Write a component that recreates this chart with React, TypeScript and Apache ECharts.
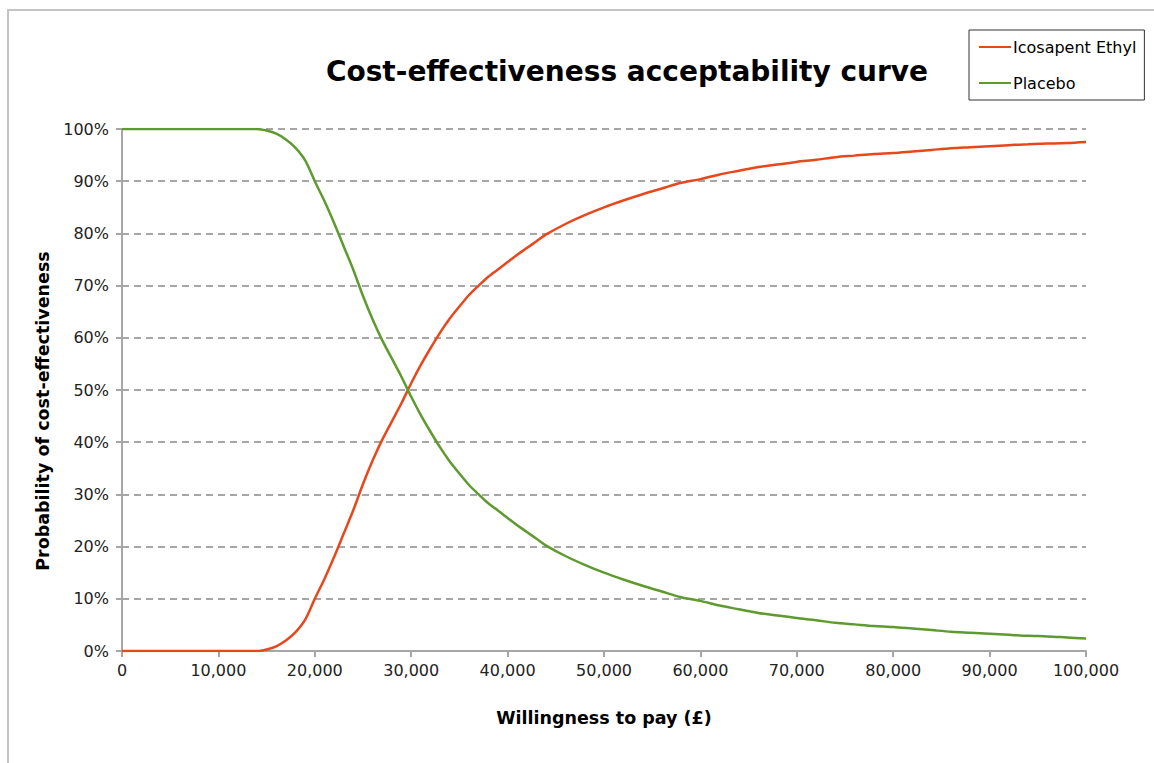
import React, { useEffect, useRef } from "react";
import * as echarts from "echarts";

const wtp = [
  0, 5000, 10000, 13000, 14000, 15000, 16000, 17000, 18000, 19000, 20000, 21000, 22000, 23000, 24000,
  25000, 26000, 27000, 28000, 29000, 30000, 31000, 32000, 33000, 34000, 35000, 36000, 37000, 38000,
  39000, 40000, 41000, 42000, 43000, 44000, 46000, 48000, 50000, 52000, 54000, 56000, 58000, 60000,
  62000, 64000, 66000, 68000, 70000, 72000, 74000, 76000, 78000, 80000, 82000, 84000, 86000, 88000,
  90000, 92000, 94000, 96000, 98000, 100000,
];

const icosapent = [
  0, 0, 0, 0, 0, 0.3, 0.9, 2.0, 3.6, 6.0, 10.0, 13.8, 18.0, 22.5, 27.0,
  32.0, 36.5, 40.5, 44.0, 47.5, 51.3, 54.8, 58.0, 61.0, 63.7, 66.0, 68.2, 70.0, 71.7,
  73.1, 74.5, 75.9, 77.2, 78.5, 79.8, 81.8, 83.5, 85.0, 86.3, 87.5, 88.6, 89.7, 90.4,
  91.3, 92.0, 92.7, 93.2, 93.7, 94.1, 94.6, 94.9, 95.2, 95.4, 95.7, 96.0, 96.3, 96.5,
  96.7, 96.9, 97.1, 97.2, 97.3, 97.5,
];

const placebo = [
  100, 100, 100, 100, 100, 99.7, 99.1, 98.0, 96.4, 94.0, 90.0, 86.2, 82.0, 77.5, 73.0,
  68.0, 63.5, 59.5, 56.0, 52.5, 48.7, 45.2, 42.0, 39.0, 36.3, 34.0, 31.8, 30.0, 28.3,
  26.9, 25.5, 24.1, 22.8, 21.5, 20.2, 18.2, 16.5, 15.0, 13.7, 12.5, 11.4, 10.3, 9.6,
  8.7, 8.0, 7.3, 6.8, 6.3, 5.9, 5.4, 5.1, 4.8, 4.6, 4.3, 4.0, 3.7, 3.5,
  3.3, 3.1, 2.9, 2.8, 2.6, 2.4,
];

const seriesNames = ["Icosapent Ethyl", "Placebo"];
const titleText = "Cost-effectiveness acceptability curve";
const xAxisName = "Willingness to pay (£)";
const yAxisName = "Probability of cost-effectiveness";

const FONT = "DejaVu Sans, Verdana, sans-serif";

export default function App() {
  const ref = useRef<HTMLDivElement>(null);

  useEffect(() => {
    if (!ref.current) return;
    const chart = echarts.init(ref.current, undefined, { renderer: "svg" });
    chart.setOption({
      animation: false,
      backgroundColor: "#ffffff",
      textStyle: { fontFamily: FONT },
      graphic: [
        {
          type: "rect",
          shape: { x: 8, y: 10, width: 1300, height: 900 },
          style: { fill: "none", stroke: "#C4C4C4", lineWidth: 2 },
          silent: true,
          z: -10,
        },
      ],
      title: {
        text: titleText,
        left: 622,
        top: 52,
        textAlign: "center",
        textStyle: { fontFamily: FONT, fontSize: 28, fontWeight: "bold", color: "#000000" },
      },
      legend: {
        orient: "vertical",
        left: 969,
        top: 30,
        padding: [9, 8, 9, 10],
        itemGap: 20,
        itemWidth: 32,
        itemHeight: 2,
        icon: "rect",
        backgroundColor: "#ffffff",
        borderColor: "#333333",
        borderWidth: 1,
        textStyle: { fontFamily: FONT, fontSize: 16, color: "#000000", padding: [0, 0, 0, -3] },
        data: seriesNames,
      },
      grid: { left: 122, right: 68, top: 129, bottom: 112, containLabel: false },
      xAxis: {
        type: "value",
        min: 0,
        max: 100000,
        interval: 10000,
        name: xAxisName,
        nameLocation: "middle",
        nameGap: 58,
        nameTextStyle: { fontFamily: FONT, fontSize: 17.5, fontWeight: "bold", color: "#000000" },
        axisLine: { show: true, lineStyle: { color: "#A6A6A6", width: 2 } },
        axisTick: { show: true, length: 6, lineStyle: { color: "#A6A6A6", width: 2 } },
        axisLabel: {
          fontFamily: FONT,
          fontSize: 16,
          color: "#222222",
          margin: 11,
          formatter: (v: number) => v.toLocaleString("en-US"),
        },
        splitLine: { show: false },
      },
      yAxis: {
        type: "value",
        min: 0,
        max: 100,
        interval: 10,
        name: yAxisName,
        nameLocation: "middle",
        nameGap: 54,
        nameRotate: 90,
        nameTextStyle: {
          fontFamily: FONT,
          fontSize: 17.5,
          fontWeight: "bold",
          color: "#000000",
          padding: [10, 42, 0, 0],
        },
        axisLine: { show: true, lineStyle: { color: "#A6A6A6", width: 2 } },
        axisTick: { show: true, length: 6, lineStyle: { color: "#A6A6A6", width: 2 } },
        axisLabel: {
          fontFamily: FONT,
          fontSize: 16,
          color: "#222222",
          margin: 13,
          formatter: "{value}%",
        },
        splitLine: { show: true, lineStyle: { color: "#A6A6A6", width: 2, type: [7, 5] } },
      },
      series: [
        {
          name: seriesNames[0],
          type: "line",
          smooth: 0.3,
          showSymbol: false,
          symbol: "none",
          color: "#E8471C",
          lineStyle: { color: "#E8471C", width: 2.5 },
          data: wtp.map((x, i) => [x, icosapent[i]]),
          z: 3,
        },
        {
          name: seriesNames[1],
          type: "line",
          smooth: 0.3,
          showSymbol: false,
          symbol: "none",
          color: "#5E9A2E",
          lineStyle: { color: "#5E9A2E", width: 2.5 },
          data: wtp.map((x, i) => [x, placebo[i]]),
          z: 3,
        },
      ],
    });
    return () => chart.dispose();
  }, []);

  return (
    <div
      ref={ref}
      style={{ position: "fixed", left: 0, top: 0, width: 1154, height: 763, background: "#fff" }}
    />
  );
}
